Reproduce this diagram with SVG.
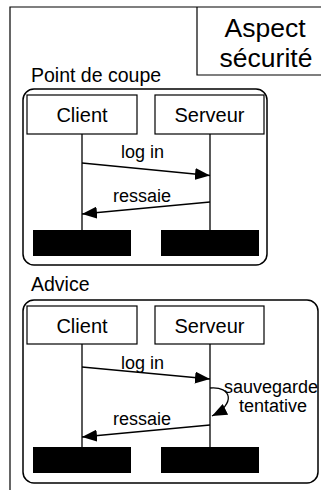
<svg xmlns="http://www.w3.org/2000/svg" width="321" height="490" viewBox="0 0 321 490">
<defs>
<style>
text{font-family:"Liberation Sans",Arial,sans-serif;fill:#000}
.box{fill:#fff;stroke:#000;stroke-width:1.2}
.frame{fill:none;stroke:#000;stroke-width:1.5}
.life{stroke:#000;stroke-width:1.3;fill:none}
.msg{stroke:#000;stroke-width:1.3;fill:none;marker-end:url(#ah)}
.bar{fill:#000}
.t20{font-size:20px;text-anchor:middle}
.t18{font-size:18px;text-anchor:middle}
.lbl{font-size:19.5px}
</style>
<marker id="ah" markerWidth="15" markerHeight="12" refX="15" refY="6" orient="auto" markerUnits="userSpaceOnUse">
<path d="M0,0 L15,6 L0,12 z" fill="#000"/>
</marker>
</defs>
<rect width="321" height="490" fill="#fff"/>
<g id="outer-frame">
<path d="M10,490 L10,7 L321,7" fill="none" stroke="#000" stroke-width="1.2"/>
</g>
<g id="aspect">
<path d="M197,7 L197,75 L321,75" fill="none" stroke="#000" stroke-width="1.2"/>
<text x="265" y="36.5" style="font-size:26.5px;text-anchor:middle">Aspect</text>
<text x="266" y="66.5" style="font-size:26.5px;text-anchor:middle">sécurité</text>
</g>
<g id="pointcut">
<text class="lbl" x="31" y="82">Point de coupe</text>
<rect class="frame" x="23" y="89" width="244" height="176" rx="11"/>
</g>
<g id="client1">
<rect class="box" x="27" y="95" width="110" height="39"/>
<text class="t20" x="82" y="121.5">Client</text>
<line class="life" x1="82" y1="134" x2="82" y2="230"/>
<rect class="bar" x="33" y="230" width="98" height="26"/>
</g>
<g id="serveur1">
<rect class="box" x="155" y="95" width="109" height="39"/>
<text class="t20" x="209.5" y="121.5">Serveur</text>
<line class="life" x1="210" y1="134" x2="210" y2="230"/>
<rect class="bar" x="161" y="230" width="98" height="26"/>
</g>
<g id="advice">
<text class="lbl" x="31" y="291">Advice</text>
<rect class="frame" x="23" y="300" width="295" height="183" rx="11"/>
</g>
<g id="client2">
<rect class="box" x="27" y="306" width="110" height="38"/>
<text class="t20" x="82" y="332.5">Client</text>
<line class="life" x1="82" y1="344" x2="82" y2="447"/>
<rect class="bar" x="33" y="447" width="98" height="26"/>
</g>
<g id="serveur2">
<rect class="box" x="155" y="306" width="109" height="38"/>
<text class="t20" x="209.5" y="332.5">Serveur</text>
<line class="life" x1="210" y1="344" x2="210" y2="447"/>
<rect class="bar" x="161" y="447" width="98" height="26"/>
</g>
<g id="connectors">
<line class="msg" x1="82" y1="163" x2="210" y2="175.5"/>
<text class="t18" x="142.5" y="158">log in</text>
<line class="msg" x1="210" y1="202" x2="82" y2="214"/>
<text class="t18" x="142" y="202">ressaie</text>
<line class="msg" x1="82" y1="367" x2="210" y2="379"/>
<text class="t18" x="142.5" y="369">log in</text>
<path class="msg" d="M210,388 C232,386 236,404 212,416"/>
<text x="271" y="393" style="font-size:18px;text-anchor:middle">sauvegarde</text>
<text x="273" y="412" style="font-size:18px;text-anchor:middle">tentative</text>
<line class="msg" x1="210" y1="425" x2="82" y2="437"/>
<text class="t18" x="142" y="425">ressaie</text>
</g>
</svg>
